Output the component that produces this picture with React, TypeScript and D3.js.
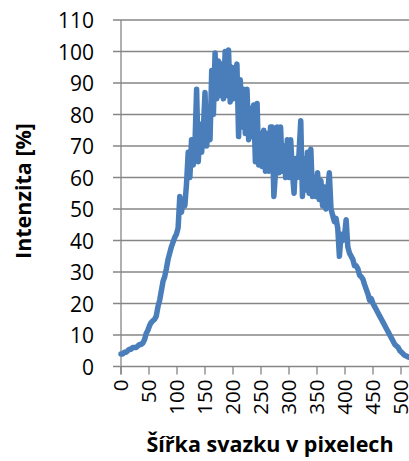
import React from "react";
import * as d3 from "d3";

// Beam intensity profile sampled every 3 pixels across the beam width (0..513 px)
const SAMPLE_STEP = 3;
const intensity: number[] = [
  4, 4, 4.5, 4.5, 5, 5.5, 5.5, 6, 6, 6,
  6.5, 7, 7, 7.5, 8.5, 10.5, 11.5, 13, 14, 14.5,
  15, 16, 19, 21, 24, 27, 28.5, 31, 34, 36,
  38, 39.5, 41, 42, 44, 54, 49, 53, 51, 58,
  68, 60, 72, 64, 70, 88, 65, 77, 68, 75,
  87, 70, 77, 72, 94, 80, 99.5, 85, 97, 86,
  96, 85, 100, 86, 100.5, 84, 95, 85, 93, 96,
  73, 91, 76, 88, 74, 88, 72, 82, 73, 83,
  65, 83.5, 64, 74, 63.5, 75, 62, 74, 62, 76,
  76, 54, 62, 76, 61.5, 76, 62, 70, 60, 72,
  60, 72, 62, 55, 66, 60, 68, 78, 54, 66,
  56, 68, 55, 69, 54, 60, 54, 61.5, 53, 59,
  51, 57, 50, 55, 61.5, 50, 48, 46, 47, 44,
  35, 42, 40, 41, 46.6, 38, 36, 35, 34, 32,
  32, 31, 29, 28.5, 27.7, 26, 24.5, 23, 21, 21.5,
  20, 19, 18, 17, 16, 15, 14, 13, 12, 11,
  10, 9, 8, 7, 6.5, 6, 5, 4.5, 4, 3.5,
  3.3, 3,
];

const yTicks: number[] = [0, 10, 20, 30, 40, 50, 60, 70, 80, 90, 100, 110];
const xTicks: number[] = [0, 50, 100, 150, 200, 250, 300, 350, 400, 450, 500];

const xTitle = "Šířka svazku v pixelech";
const yTitle = "Intenzita [%]";

const W = 409;
const H = 461;
const plotLeft = 121;
const plotRight = 409;
const plotTop = 20;
const plotBottom = 366.5;

const FONT = "'Open Sans', 'Liberation Sans', sans-serif";
const GRID = "#868686";
const LINE = "#4A7EBB";

export default function App() {
  const x = d3.scaleLinear().domain([0, 500]).range([plotLeft, 401]);
  const y = d3.scaleLinear().domain([0, 110]).range([plotBottom, plotTop]);

  const points: [number, number][] = intensity.map((v, i) => [i * SAMPLE_STEP, v]);
  const line = d3
    .line<[number, number]>()
    .x((d) => x(d[0]))
    .y((d) => y(d[1]));

  return (
    <svg
      width={W}
      height={H}
      style={{ position: "absolute", left: 0, top: 0, background: "#fff" }}
    >
      {/* horizontal gridlines and y ticks */}
      {yTicks.map((t) => (
        <g key={"y" + t}>
          <line
            x1={plotLeft - 8}
            x2={plotRight}
            y1={y(t)}
            y2={y(t)}
            stroke={GRID}
            strokeWidth={1.3}
          />
          <text
            x={94}
            y={y(t)}
            textAnchor="end"
            dominantBaseline="central"
            fontFamily={FONT}
            fontSize={21}
            fill="#000"
          >
            {t}
          </text>
        </g>
      ))}

      {/* y axis line */}
      <line
        x1={plotLeft}
        x2={plotLeft}
        y1={plotTop}
        y2={plotBottom + 8}
        stroke={GRID}
        strokeWidth={1.3}
      />

      {/* x ticks and rotated labels */}
      {xTicks.map((t) => (
        <g key={"x" + t}>
          <line
            x1={x(t)}
            x2={x(t)}
            y1={plotBottom}
            y2={plotBottom + 8}
            stroke={GRID}
            strokeWidth={1.3}
          />
          <text
            transform={`translate(${x(t) - 1.2},${plotBottom + 13}) rotate(-90)`}
            textAnchor="end"
            dominantBaseline="central"
            fontFamily={FONT}
            fontSize={20.5}
            fill="#000"
          >
            {t}
          </text>
        </g>
      ))}

      {/* intensity profile */}
      <path
        d={line(points) ?? ""}
        fill="none"
        stroke={LINE}
        strokeWidth={5.5}
        strokeLinejoin="round"
        strokeLinecap="round"
      />

      {/* axis titles */}
      <text
        x={270}
        y={452}
        textAnchor="middle"
        fontFamily={FONT}
        fontWeight="bold"
        fontSize={21.5}
        fill="#000"
      >
        {xTitle}
      </text>
      <text
        transform={`translate(22.5,191) rotate(-90)`}
        textAnchor="middle"
        dominantBaseline="central"
        fontFamily={FONT}
        fontWeight="bold"
        fontSize={21.5}
        fill="#000"
      >
        {yTitle}
      </text>
    </svg>
  );
}
